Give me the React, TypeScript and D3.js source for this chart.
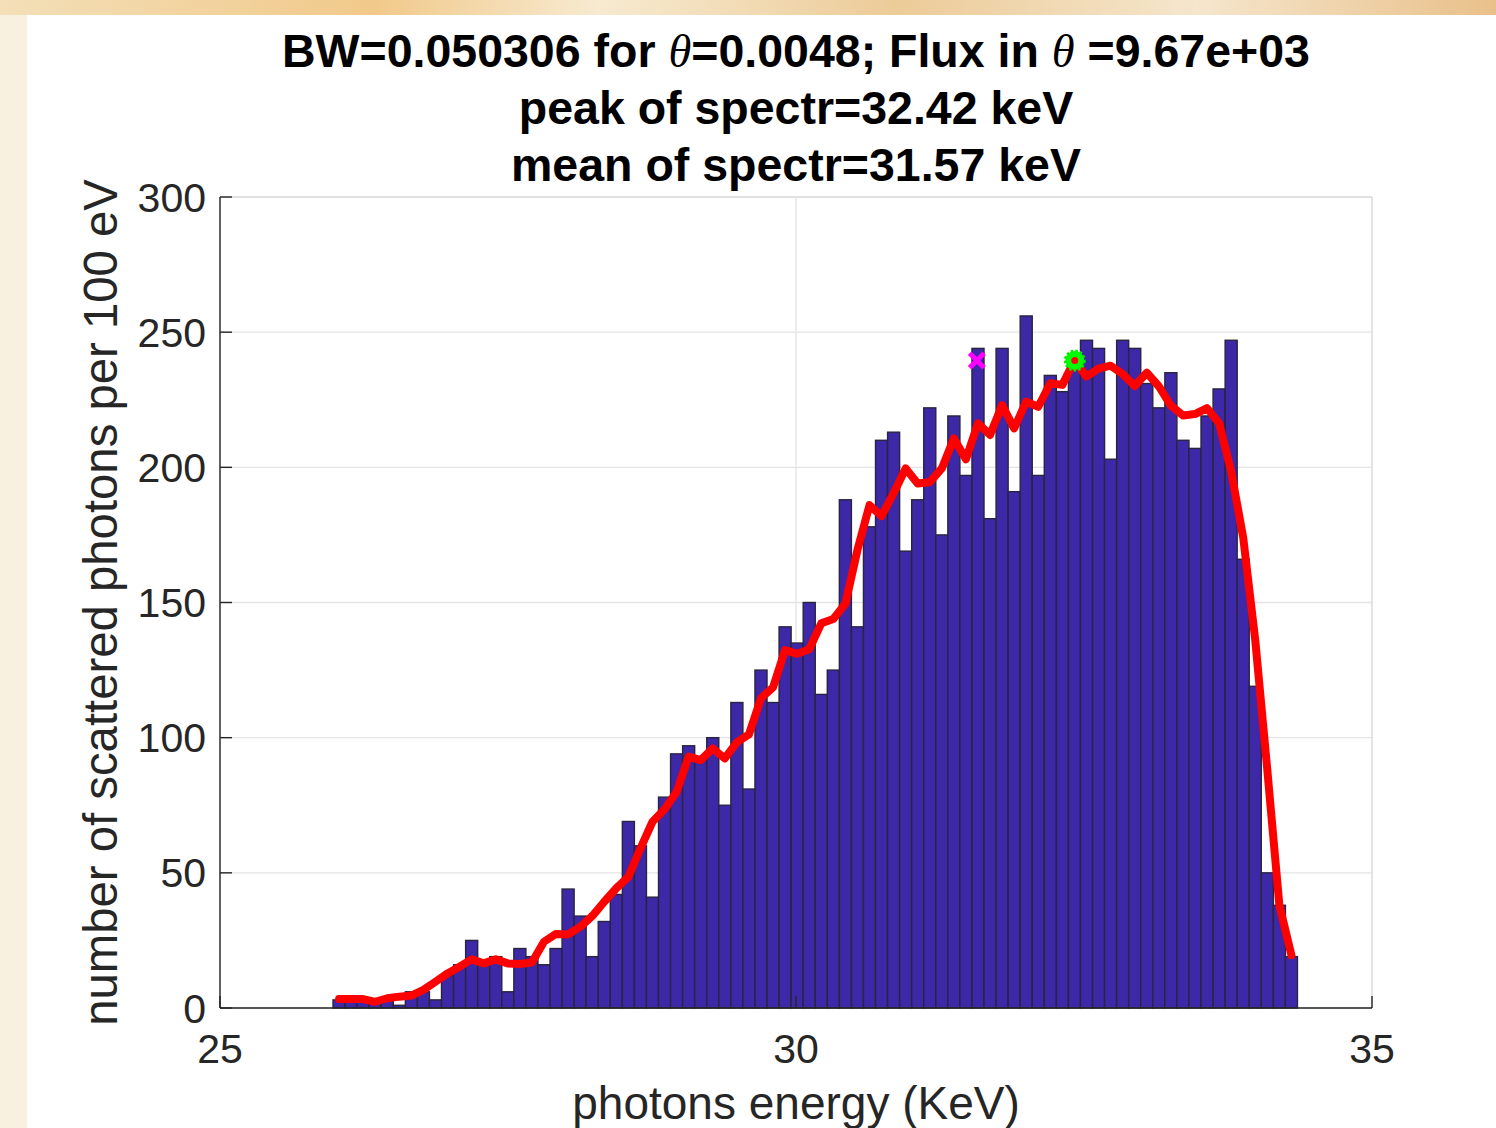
import React from "react";
import * as d3 from "d3";

// ---- data ----
const binStart = 25.981;
const binWidth = 0.10465;
const counts = [
  3, 3, 3, 2, 3, 1, 6, 6, 3, 12, 16, 25, 17, 19, 6, 22, 19, 16, 22, 44,
  34, 19, 32, 42, 69, 60, 41, 78, 94, 97, 92, 100, 75, 113, 81, 125, 113, 141, 135, 150,
  116, 125, 188, 141, 178, 210, 213, 169, 188, 222, 175, 219, 197, 244, 181, 244, 191, 256, 197, 234,
  228, 238, 247, 244, 203, 247, 244, 231, 222, 235, 210, 207, 219, 229, 247, 166, 119, 50, 38, 19,
];
const fitValues = [
  3.3, 3.3, 3.3, 2.3, 3.6, 4.2, 4.6, 6.7, 9.7, 12.8, 15.3, 18, 16.5, 18, 16.5, 16.3, 16.8, 24.5, 27.4, 27.2,
  30, 34, 39.3, 44.3, 48.5, 59, 68.9, 73.5, 79.9, 93, 91.7, 96, 92.3, 98.3, 101.2, 114.6, 118.6, 132.4, 131, 132.7,
  142.3, 143.9, 149.5, 169.4, 186, 182, 190.4, 199.6, 194, 194.5, 199.6, 210.7, 203, 216.3, 212, 223, 214.4, 224.3, 222.4, 231.1,
  230.5, 239.5, 233.6, 236.5, 237.6, 234.5, 230.1, 235, 230, 222.8, 219.2, 219.7, 221.9, 216.3, 198.5, 174, 136, 88, 38, 19.5,
];
const xTicks = [25, 30, 35];
const yTicks = [0, 50, 100, 150, 200, 250, 300];
const meanE = 31.57;
const peakE = 32.42;
const markerY = 239.5;
const titleLines = [
  ["BW=0.050306 for ", "θ", "=0.0048; Flux in ", "θ", " =9.67e+03"],
  ["peak of spectr=32.42 keV"],
  ["mean of spectr=31.57 keV"],
];
const xLabel = "photons energy (KeV)";
const yLabel = "number of scattered photons per 100 eV";

// ---- layout ----
const W = 1496;
const H = 1128;
const M = { left: 220, right: 1372, top: 197, bottom: 1008 };
const FONT = "'Liberation Sans', Arial, Helvetica, sans-serif";

export default function App() {
  const x = d3.scaleLinear().domain([25, 35]).range([M.left, M.right]);
  const y = d3.scaleLinear().domain([0, 300]).range([M.bottom, M.top]);

  const line = d3
    .line<number>()
    .x((_, i) => x(binStart + (i + 0.5) * binWidth))
    .y((d) => y(d))
    .curve(d3.curveLinear);

  const gridColor = "#e3e3e3";
  const axisColor = "#262626";

  const mx = x(meanE);
  const my = y(markerY);
  const px = x(peakE);

  return (
    <svg
      width={W}
      height={H}
      style={{ position: "absolute", left: 0, top: 0, display: "block" }}
      xmlns="http://www.w3.org/2000/svg"
    >
      <defs>
        <linearGradient id="bgtop" x1="0" x2="1" y1="0" y2="0">
          <stop offset="0" stopColor="#f3dfb8" />
          <stop offset="0.25" stopColor="#f1c98a" />
          <stop offset="0.4" stopColor="#f7ead0" />
          <stop offset="0.6" stopColor="#eccb98" />
          <stop offset="0.8" stopColor="#f5e6cc" />
          <stop offset="1" stopColor="#e9c08a" />
        </linearGradient>
      </defs>
      <rect x={0} y={0} width={W} height={H} fill="#f8f1e0" />
      <rect x={0} y={0} width={W} height={15} fill="url(#bgtop)" />
      <rect x={27} y={15} width={W - 27} height={H - 15} fill="#ffffff" />

      {/* grid */}
      {yTicks.map((t) => (
        <line key={"gy" + t} x1={M.left} x2={M.right} y1={y(t)} y2={y(t)} stroke={gridColor} strokeWidth={1.3} />
      ))}
      {xTicks.map((t) => (
        <line key={"gx" + t} x1={x(t)} x2={x(t)} y1={M.top} y2={M.bottom} stroke={gridColor} strokeWidth={1.3} />
      ))}

      {/* bars */}
      {counts.map((c, i) => {
        const x0 = x(binStart + i * binWidth);
        const x1 = x(binStart + (i + 1) * binWidth);
        return (
          <rect
            key={"b" + i}
            x={x0}
            y={y(c)}
            width={x1 - x0}
            height={y(0) - y(c)}
            fill="#3d28a8"
            stroke="#2a2440"
            strokeWidth={1.4}
          />
        );
      })}

      {/* fit line */}
      <path
        d={line(fitValues) || ""}
        fill="none"
        stroke="#ff0000"
        strokeWidth={8}
        strokeLinejoin="round"
        strokeLinecap="round"
      />

      {/* mean marker (magenta x) */}
      <g stroke="#ff00ff" strokeWidth={5} strokeLinecap="square">
        <line x1={mx - 5.5} y1={my - 5.5} x2={mx + 5.5} y2={my + 5.5} />
        <line x1={mx - 5.5} y1={my + 5.5} x2={mx + 5.5} y2={my - 5.5} />
      </g>
      {/* peak marker */}
      <circle cx={px} cy={my} r={9.5} fill="#00ff00" stroke="#00ee00" strokeWidth={3} strokeDasharray="2.5 2" />
      <circle cx={px} cy={my} r={3.5} fill="#ff0000" />

      {/* axes box */}
      <line x1={M.left} x2={M.right} y1={M.top} y2={M.top} stroke="#dedede" strokeWidth={1.3} />
      <line x1={M.right} x2={M.right} y1={M.top} y2={M.bottom} stroke="#dedede" strokeWidth={1.3} />
      <line x1={M.left} x2={M.left} y1={M.top} y2={M.bottom} stroke={axisColor} strokeWidth={1.4} />
      <line x1={M.left} x2={M.right} y1={M.bottom} y2={M.bottom} stroke={axisColor} strokeWidth={1.4} />

      {/* ticks */}
      {yTicks.map((t) => (
        <line key={"ty" + t} x1={M.left} x2={M.left + 12} y1={y(t)} y2={y(t)} stroke={axisColor} strokeWidth={1.4} />
      ))}
      {xTicks.map((t) => (
        <line key={"tx" + t} x1={x(t)} x2={x(t)} y1={M.bottom} y2={M.bottom - 12} stroke={axisColor} strokeWidth={1.4} />
      ))}

      {/* tick labels */}
      {yTicks.map((t) => (
        <text
          key={"ly" + t}
          x={M.left - 14}
          y={y(t) + 14.5}
          textAnchor="end"
          fontFamily={FONT}
          fontSize={41}
          fill="#262626"
        >
          {t}
        </text>
      ))}
      {xTicks.map((t) => (
        <text
          key={"lx" + t}
          x={x(t)}
          y={M.bottom + 55}
          textAnchor="middle"
          fontFamily={FONT}
          fontSize={41}
          fill="#262626"
        >
          {t}
        </text>
      ))}

      {/* axis labels */}
      <text x={(M.left + M.right) / 2} y={1119} textAnchor="middle" fontFamily={FONT} fontSize={46} fill="#262626">
        {xLabel}
      </text>
      <text
        transform={`translate(117, ${(180 + 1025) / 2}) rotate(-90)`}
        textAnchor="middle"
        fontFamily={FONT}
        fontSize={47.3}
        fill="#262626"
      >
        {yLabel}
      </text>

      {/* title */}
      {titleLines.map((parts, li) => (
        <text
          key={"t" + li}
          x={(M.left + M.right) / 2}
          y={67 + li * 57}
          textAnchor="middle"
          fontFamily={FONT}
          fontSize={46.5}
          fontWeight="bold"
          fill="#000000"
        >
          {parts.map((p, pi) =>
            p === "θ" ? (
              <tspan key={pi} fontFamily="'Liberation Serif', 'DejaVu Serif', serif" fontStyle="italic" fontWeight="normal">
                {p}
              </tspan>
            ) : (
              <tspan key={pi}>{p}</tspan>
            )
          )}
        </text>
      ))}
    </svg>
  );
}
